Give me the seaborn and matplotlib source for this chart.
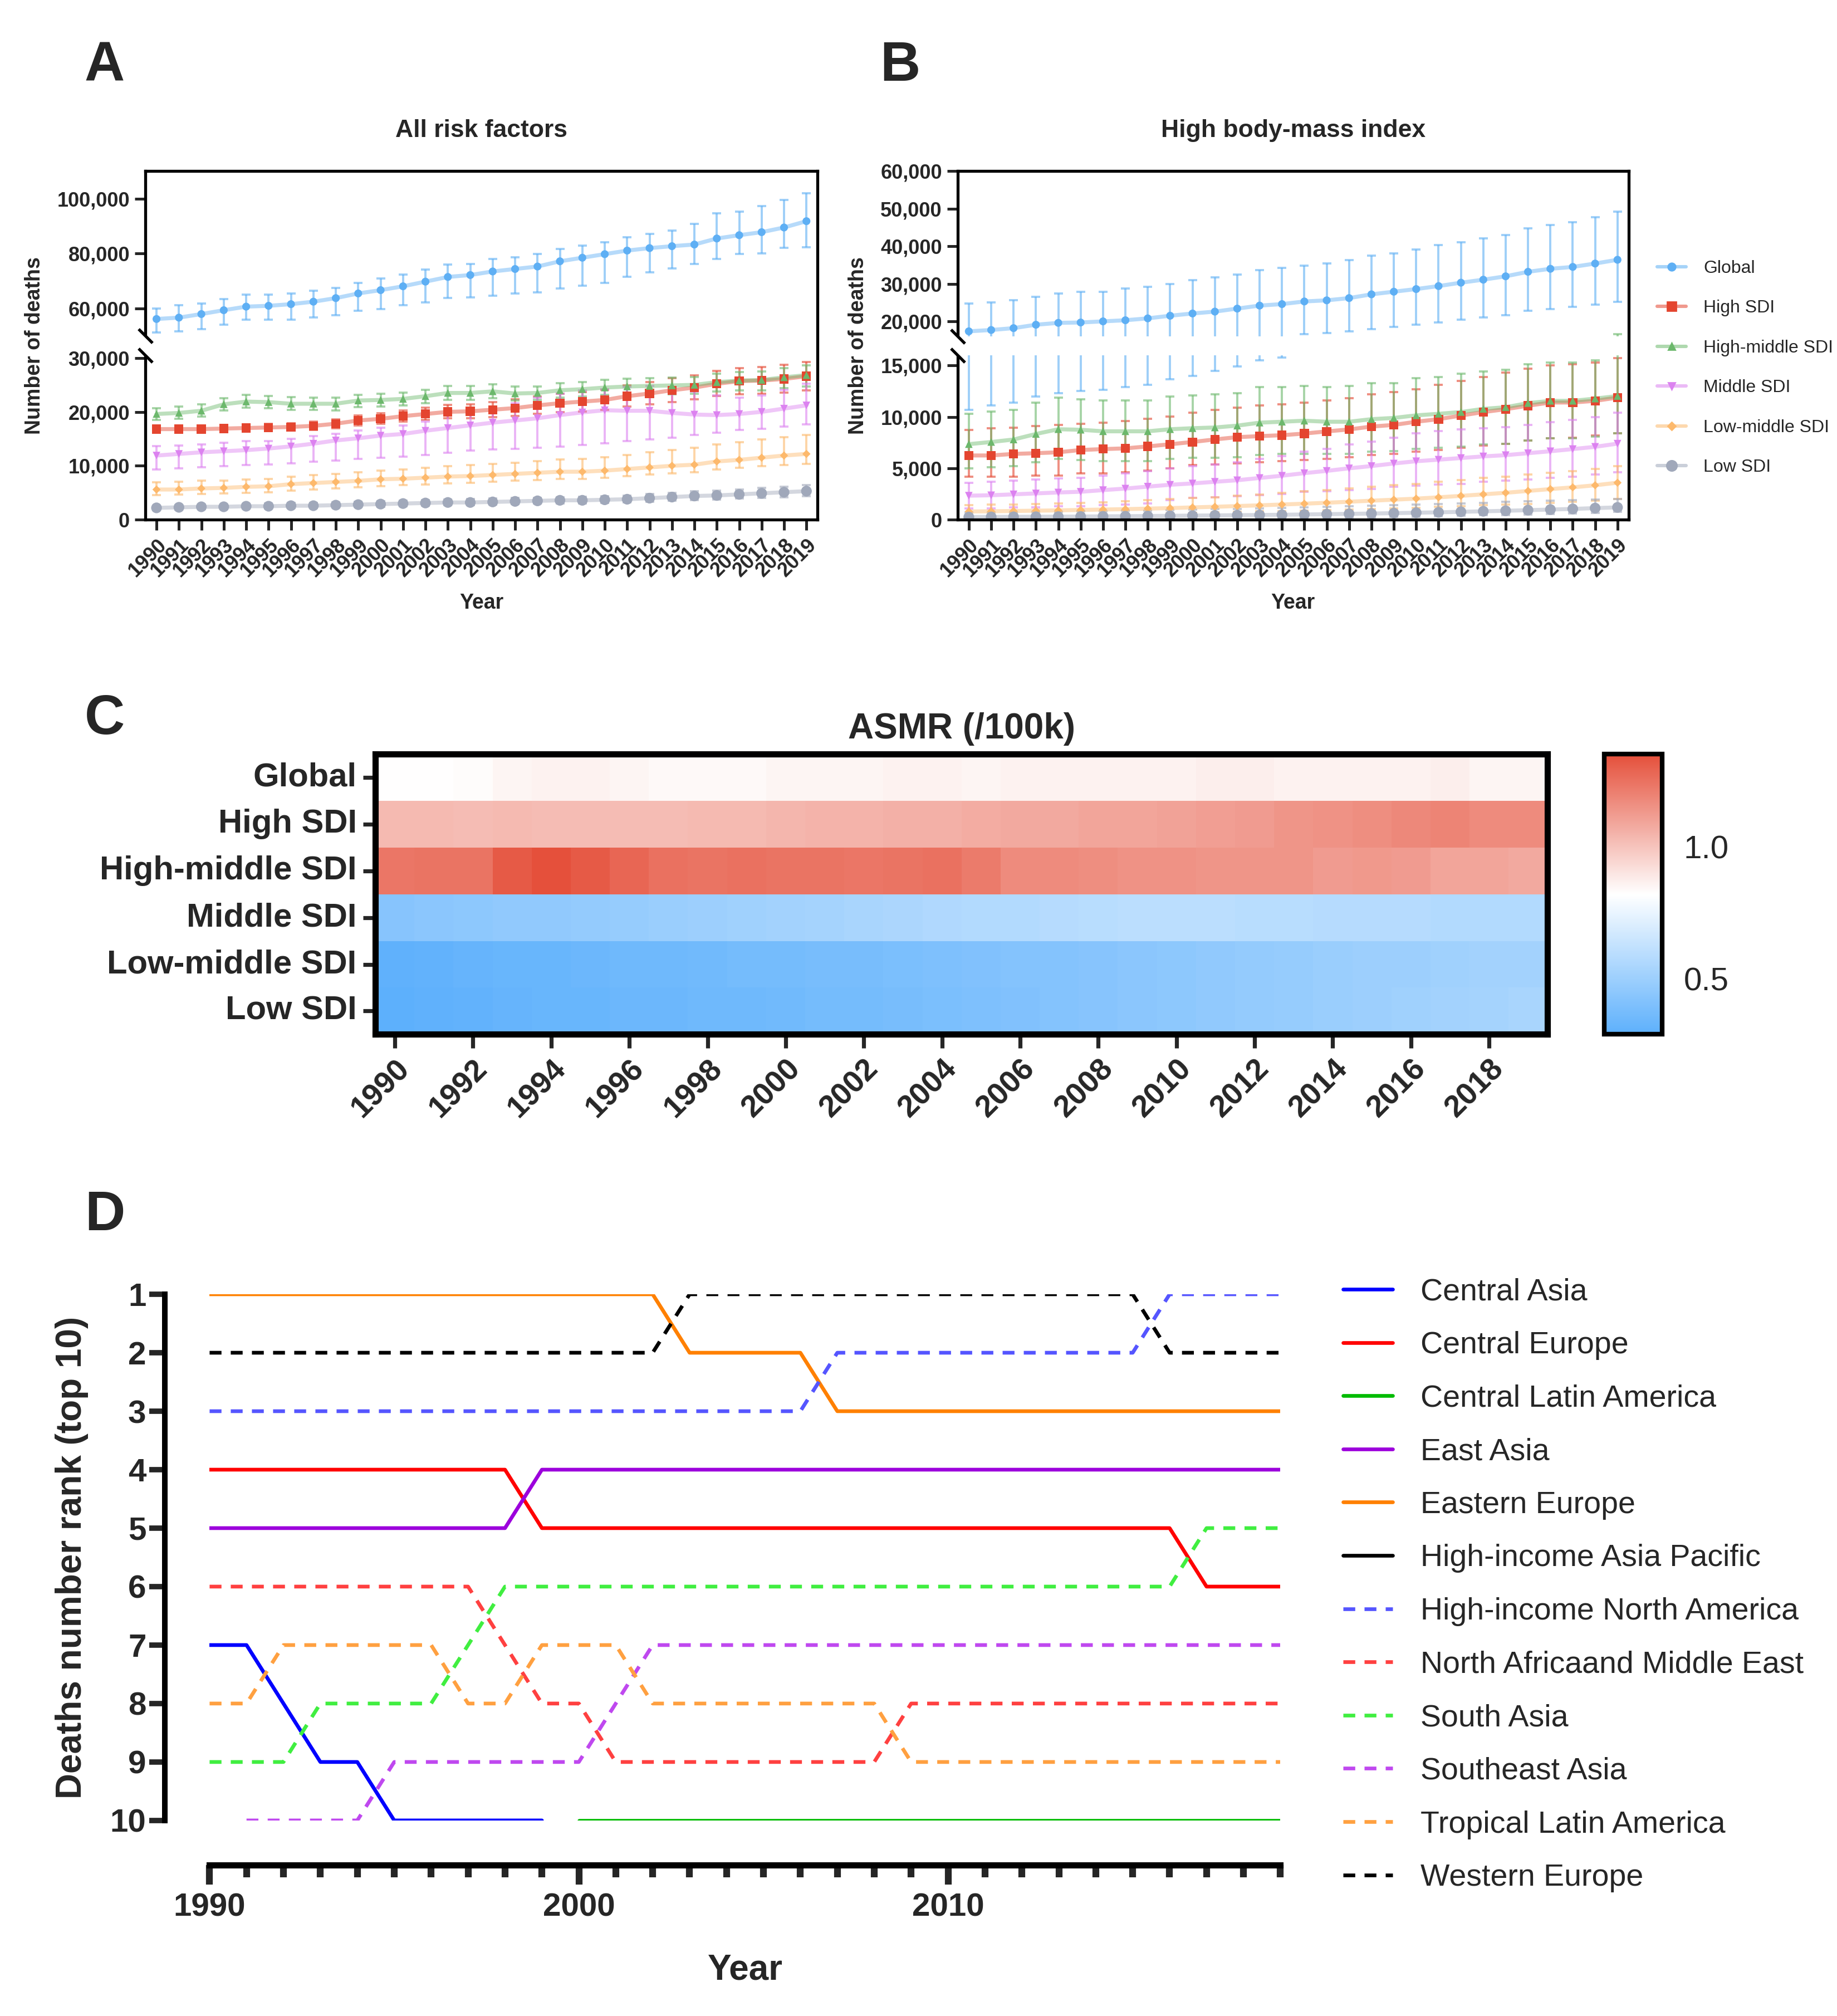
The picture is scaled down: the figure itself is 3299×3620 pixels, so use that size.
import numpy as np
import pandas as pd
import matplotlib
matplotlib.use("Agg")
import matplotlib.pyplot as plt
import seaborn as sns
from matplotlib.colors import LinearSegmentedColormap, to_rgba
from matplotlib.lines import Line2D
from matplotlib.patches import Rectangle
from matplotlib.ticker import FixedLocator, FuncFormatter, MultipleLocator

YEARS = list(range(1990, 2020))
GROUPS = ["Global", "High SDI", "High-middle SDI", "Middle SDI", "Low-middle SDI", "Low SDI"]

# ---------------- panel A : all risk factors (thousands of deaths) ----------------
A_GLOBAL = [56.2, 56.7, 58.0, 59.4, 60.7, 61.0, 61.6, 62.5, 63.8, 65.5, 66.7, 68.1, 69.8, 71.5, 72.2,
            73.5, 74.4, 75.3, 77.2, 78.5, 79.8, 81.1, 82.0, 82.7, 83.3, 85.5, 86.7, 87.8, 89.5, 91.8]
A_GLOBAL_LO = [51.2, 51.8, 52.5, 54.1, 55.9, 55.9, 55.9, 56.7, 57.5, 59.1, 59.8, 61.2, 62.2, 63.8, 64.0,
               64.6, 65.4, 65.9, 67.3, 68.4, 69.4, 71.5, 73.2, 74.7, 76.2, 78.1, 79.8, 80.0, 82.1, 82.4]
A_GLOBAL_HI = [60.1, 61.3, 61.9, 63.5, 65.1, 65.1, 65.4, 66.4, 67.5, 69.4, 70.9, 72.4, 74.2, 76.0, 76.2,
               78.0, 78.6, 79.8, 81.6, 82.9, 84.1, 86.0, 87.1, 88.4, 90.8, 94.6, 95.3, 97.3, 99.6, 102.0]
A_HIGH = [16.8, 16.8, 16.8, 16.9, 17.0, 17.1, 17.2, 17.4, 17.8, 18.4, 18.7, 19.2, 19.6, 20.0, 20.1,
          20.4, 20.7, 21.2, 21.6, 21.9, 22.2, 22.9, 23.4, 24.0, 24.5, 25.2, 25.7, 25.8, 26.1, 26.6]
A_HIGH_LO = [16.2, 16.2, 16.2, 16.3, 16.4, 16.4, 16.5, 16.6, 17.0, 17.5, 17.8, 18.2, 18.5, 18.8, 18.8,
             19.0, 19.2, 19.6, 19.9, 20.1, 20.4, 21.0, 21.4, 21.8, 22.3, 22.9, 23.3, 23.4, 23.6, 24.0]
A_HIGH_HI = [17.4, 17.4, 17.5, 17.5, 17.6, 17.8, 17.9, 18.2, 18.6, 19.3, 19.7, 20.3, 20.8, 21.3, 21.4,
             21.8, 22.3, 22.8, 23.4, 23.7, 24.1, 24.9, 25.5, 26.2, 26.8, 27.6, 28.1, 28.3, 28.7, 29.2]
A_HM = [19.6, 19.8, 20.2, 21.4, 21.9, 21.8, 21.5, 21.5, 21.5, 22.1, 22.2, 22.4, 22.9, 23.5, 23.5,
        23.8, 23.4, 23.5, 24.0, 24.2, 24.5, 24.7, 24.8, 24.9, 25.0, 25.5, 25.8, 25.9, 26.4, 26.8]
A_HM_LO = [18.5, 18.7, 19.1, 20.3, 20.8, 20.7, 20.4, 20.4, 20.3, 20.9, 21.0, 21.2, 21.6, 22.2, 22.2,
           22.5, 22.1, 22.2, 22.6, 22.8, 23.1, 23.2, 23.3, 23.3, 23.4, 23.8, 24.0, 24.0, 24.4, 24.7]
A_HM_HI = [20.7, 21.0, 21.4, 22.5, 23.1, 22.9, 22.7, 22.6, 22.6, 23.2, 23.4, 23.6, 24.1, 24.8, 24.8,
           25.1, 24.7, 24.7, 25.3, 25.5, 25.9, 26.1, 26.2, 26.4, 26.5, 27.1, 27.4, 27.5, 28.1, 28.6]
A_MID = [11.9, 12.2, 12.5, 12.7, 12.9, 13.2, 13.6, 14.1, 14.7, 15.1, 15.6, 15.9, 16.5, 17.0, 17.5,
         18.0, 18.4, 18.8, 19.4, 19.9, 20.3, 20.2, 20.2, 19.8, 19.5, 19.4, 19.6, 20.0, 20.6, 21.2]
A_MID_LO = [9.3, 9.5, 9.7, 9.9, 10.1, 10.2, 10.5, 10.8, 11.0, 11.3, 11.5, 11.7, 12.0, 12.4, 12.8,
            13.0, 13.1, 13.3, 13.6, 13.9, 14.2, 14.6, 14.9, 15.2, 15.7, 16.1, 16.6, 16.9, 17.3, 17.7]
A_MID_HI = [13.7, 13.8, 14.0, 14.3, 14.6, 14.6, 15.0, 15.5, 15.9, 16.5, 17.1, 17.5, 18.2, 19.3, 20.2,
            20.8, 21.6, 22.6, 23.4, 24.0, 24.2, 24.6, 24.8, 24.4, 23.8, 23.0, 22.6, 23.0, 24.1, 25.2]
A_LM = [5.6, 5.6, 5.8, 5.9, 6.1, 6.2, 6.6, 6.8, 7.0, 7.2, 7.5, 7.6, 7.8, 8.0, 8.1,
        8.3, 8.5, 8.7, 8.9, 8.9, 9.1, 9.4, 9.7, 10.0, 10.2, 10.8, 11.1, 11.5, 11.9, 12.2]
A_LM_LO = [4.6, 4.7, 4.8, 4.9, 5.0, 5.1, 5.4, 5.6, 5.8, 6.0, 6.2, 6.4, 6.5, 6.7, 6.8,
           7.0, 7.2, 7.4, 7.6, 7.6, 7.8, 8.1, 8.4, 8.6, 8.8, 9.3, 9.6, 9.9, 10.1, 10.4]
A_LM_HI = [6.9, 7.0, 7.2, 7.3, 7.5, 7.6, 8.0, 8.3, 8.5, 8.8, 9.1, 9.3, 9.6, 9.9, 10.1,
           10.3, 10.6, 10.9, 11.2, 11.3, 11.6, 12.0, 12.5, 12.9, 13.3, 14.0, 14.4, 14.9, 15.3, 15.7]
A_LOW = [2.2, 2.3, 2.4, 2.4, 2.5, 2.5, 2.6, 2.6, 2.7, 2.8, 2.9, 3.0, 3.1, 3.2, 3.2,
         3.3, 3.4, 3.5, 3.6, 3.6, 3.7, 3.8, 4.0, 4.2, 4.4, 4.5, 4.7, 4.9, 5.1, 5.3]
A_LOW_LO = [1.8, 1.9, 2.0, 2.0, 2.1, 2.1, 2.2, 2.2, 2.3, 2.4, 2.4, 2.5, 2.6, 2.7, 2.7,
            2.8, 2.9, 3.0, 3.0, 3.0, 3.1, 3.2, 3.3, 3.5, 3.6, 3.7, 3.9, 4.0, 4.2, 4.4]
A_LOW_HI = [2.6, 2.7, 2.8, 2.8, 2.9, 3.0, 3.1, 3.1, 3.2, 3.3, 3.4, 3.5, 3.6, 3.7, 3.8,
            3.9, 4.0, 4.1, 4.2, 4.3, 4.4, 4.5, 4.8, 5.0, 5.3, 5.4, 5.6, 5.9, 6.1, 6.4]

# ---------------- panel B : high body-mass index (thousands of deaths) ----------------
B_GLOBAL = [17.35, 17.7, 18.2, 19.1, 19.6, 19.7, 20.0, 20.3, 20.8, 21.5, 22.1, 22.6, 23.4, 24.2, 24.6,
            25.3, 25.6, 26.2, 27.2, 27.9, 28.6, 29.4, 30.3, 31.1, 32.0, 33.2, 34.0, 34.5, 35.4, 36.4]
B_GLOBAL_LO = [10.7, 11.1, 11.4, 12.0, 12.3, 12.5, 12.65, 12.9, 13.1, 13.65, 14.0, 14.5, 14.9, 15.5, 15.8,
               16.6, 16.9, 17.3, 18.0, 18.5, 19.1, 19.7, 20.4, 21.0, 21.7, 22.8, 23.2, 23.8, 24.5, 25.2]
B_GLOBAL_HI = [24.7, 25.0, 25.6, 26.6, 27.4, 27.8, 27.9, 28.7, 29.2, 30.0, 31.0, 31.7, 32.4, 33.6, 34.2,
               34.9, 35.4, 36.3, 37.5, 38.1, 39.1, 40.3, 41.1, 42.1, 43.0, 44.8, 45.7, 46.4, 47.7, 49.2]
B_HIGH = [6.25, 6.25, 6.4, 6.47, 6.56, 6.78, 6.87, 6.94, 7.13, 7.34, 7.56, 7.81, 8.03, 8.13, 8.22,
          8.38, 8.59, 8.78, 9.06, 9.22, 9.53, 9.78, 10.13, 10.47, 10.75, 11.09, 11.4, 11.4, 11.56, 11.88]
B_HIGH_LO = [4.2, 4.2, 4.2, 4.3, 4.3, 4.5, 4.5, 4.6, 4.8, 5.0, 5.3, 5.4, 5.5, 5.6, 5.7,
             5.8, 5.9, 6.1, 6.3, 6.4, 6.6, 6.8, 7.0, 7.2, 7.4, 7.7, 7.9, 8.0, 8.2, 8.4]
B_HIGH_HI = [8.75, 8.9, 8.95, 9.1, 9.2, 9.35, 9.45, 9.6, 9.8, 10.05, 10.4, 10.7, 10.9, 11.1, 11.2,
             11.4, 11.6, 11.8, 12.2, 12.4, 12.7, 13.1, 13.5, 13.9, 14.3, 14.7, 15.0, 15.1, 15.3, 15.7]
B_HM = [7.35, 7.56, 7.8, 8.34, 8.8, 8.75, 8.6, 8.6, 8.6, 8.8, 8.9, 8.97, 9.15, 9.44, 9.53,
        9.63, 9.53, 9.53, 9.78, 9.9, 10.15, 10.3, 10.47, 10.78, 10.94, 11.34, 11.56, 11.56, 11.78, 12.03]
B_HM_LO = [5.0, 5.1, 5.2, 5.6, 5.9, 5.8, 5.7, 5.7, 5.7, 5.9, 6.0, 6.0, 6.1, 6.3, 6.4,
           6.4, 6.4, 6.4, 6.6, 6.7, 6.9, 7.0, 7.1, 7.3, 7.4, 7.7, 7.9, 7.9, 8.1, 8.4]
B_HM_HI = [10.3, 10.5, 10.7, 11.4, 11.9, 11.7, 11.6, 11.6, 11.6, 12.0, 12.1, 12.2, 12.3, 12.9, 12.9,
           13.0, 12.9, 13.0, 13.3, 13.3, 13.75, 13.9, 14.2, 14.4, 14.6, 15.1, 15.3, 15.3, 15.5, 16.6]
B_MID = [2.34, 2.38, 2.47, 2.56, 2.65, 2.72, 2.88, 3.03, 3.22, 3.4, 3.53, 3.69, 3.84, 4.06, 4.28,
         4.53, 4.75, 5.0, 5.22, 5.47, 5.69, 5.84, 6.0, 6.16, 6.28, 6.47, 6.66, 6.87, 7.09, 7.4]
B_MID_LO = [1.1, 1.1, 1.2, 1.2, 1.3, 1.3, 1.4, 1.5, 1.6, 1.9, 2.1, 2.2, 2.3, 2.4, 2.5,
            2.7, 2.8, 2.9, 3.0, 3.2, 3.3, 3.4, 3.5, 3.7, 3.8, 3.9, 4.1, 4.2, 4.4, 4.6]
B_MID_HI = [3.6, 3.7, 3.8, 3.9, 4.0, 4.1, 4.3, 4.5, 4.7, 5.0, 5.2, 5.4, 5.6, 5.9, 6.2,
            6.6, 6.9, 7.3, 7.6, 8.0, 8.4, 8.6, 8.8, 8.9, 9.0, 9.2, 9.5, 9.7, 10.0, 10.4]
B_LM = [0.8, 0.82, 0.85, 0.88, 0.91, 0.95, 0.99, 1.03, 1.08, 1.13, 1.2, 1.26, 1.33, 1.4, 1.48,
        1.56, 1.65, 1.75, 1.85, 1.95, 2.05, 2.18, 2.32, 2.47, 2.62, 2.8, 2.98, 3.15, 3.35, 3.6]
B_LM_LO = [0.4, 0.4, 0.4, 0.4, 0.45, 0.45, 0.5, 0.5, 0.55, 0.6, 0.65, 0.7, 0.75, 0.8, 0.85,
           0.9, 0.95, 1.0, 1.05, 1.1, 1.15, 1.25, 1.3, 1.4, 1.45, 1.55, 1.65, 1.75, 1.85, 2.0]
B_LM_HI = [1.4, 1.45, 1.5, 1.55, 1.6, 1.65, 1.7, 1.8, 1.9, 2.0, 2.1, 2.2, 2.35, 2.45, 2.6,
           2.75, 2.9, 3.05, 3.2, 3.35, 3.5, 3.7, 3.85, 4.05, 4.2, 4.4, 4.55, 4.75, 4.95, 5.2]
B_LOW = [0.26, 0.27, 0.28, 0.29, 0.3, 0.31, 0.33, 0.34, 0.36, 0.38, 0.4, 0.42, 0.44, 0.46, 0.48,
         0.51, 0.54, 0.57, 0.6, 0.64, 0.68, 0.72, 0.77, 0.82, 0.87, 0.93, 0.99, 1.05, 1.13, 1.2]
B_LOW_LO = [0.05, 0.05, 0.06, 0.06, 0.07, 0.07, 0.08, 0.09, 0.1, 0.11, 0.12, 0.13, 0.14, 0.16, 0.17,
            0.19, 0.21, 0.23, 0.25, 0.28, 0.31, 0.34, 0.38, 0.42, 0.46, 0.5, 0.55, 0.6, 0.65, 0.75]
B_LOW_HI = [0.7, 0.72, 0.74, 0.76, 0.78, 0.8, 0.83, 0.86, 0.9, 0.94, 0.98, 1.02, 1.06, 1.1, 1.14,
            1.19, 1.24, 1.3, 1.36, 1.42, 1.48, 1.54, 1.6, 1.66, 1.72, 1.78, 1.84, 1.9, 1.95, 2.0]

# ---------------- panel C : ASMR (/100k) ----------------
C_ROWS = ["Global", "High SDI", "High-middle SDI", "Middle SDI", "Low-middle SDI", "Low SDI"]
C_GLOBAL = [0.82, 0.82, 0.83, 0.85, 0.86, 0.86, 0.85, 0.84, 0.84, 0.84, 0.85, 0.85, 0.85, 0.86, 0.86,
            0.85, 0.86, 0.86, 0.86, 0.86, 0.86, 0.87, 0.87, 0.86, 0.86, 0.86, 0.86, 0.87, 0.85, 0.85]
C_HIGH = [1.03, 1.03, 1.02, 1.03, 1.02, 1.02, 1.02, 1.02, 1.03, 1.03, 1.04, 1.05, 1.05, 1.06, 1.06,
          1.07, 1.08, 1.08, 1.09, 1.09, 1.10, 1.11, 1.12, 1.14, 1.15, 1.16, 1.18, 1.19, 1.17, 1.17]
C_HM = [1.23, 1.24, 1.24, 1.32, 1.35, 1.32, 1.28, 1.25, 1.24, 1.25, 1.24, 1.24, 1.23, 1.24, 1.25,
        1.22, 1.17, 1.17, 1.16, 1.15, 1.15, 1.14, 1.14, 1.14, 1.12, 1.13, 1.12, 1.09, 1.09, 1.08]
C_MID = [0.43, 0.44, 0.45, 0.46, 0.46, 0.47, 0.48, 0.49, 0.50, 0.51, 0.52, 0.53, 0.54, 0.55, 0.56,
         0.57, 0.57, 0.58, 0.59, 0.60, 0.60, 0.60, 0.59, 0.59, 0.58, 0.58, 0.58, 0.57, 0.57, 0.57]
C_LM = [0.30, 0.31, 0.32, 0.33, 0.33, 0.34, 0.35, 0.35, 0.36, 0.37, 0.37, 0.38, 0.38, 0.39, 0.40,
        0.41, 0.42, 0.42, 0.43, 0.44, 0.45, 0.46, 0.47, 0.48, 0.49, 0.50, 0.50, 0.51, 0.52, 0.52]
C_LOW = [0.29, 0.30, 0.31, 0.32, 0.33, 0.33, 0.34, 0.34, 0.35, 0.35, 0.36, 0.37, 0.37, 0.38, 0.39,
         0.40, 0.41, 0.42, 0.43, 0.44, 0.45, 0.46, 0.47, 0.48, 0.49, 0.50, 0.51, 0.52, 0.53, 0.54]

# ---------------- panel D : deaths number rank (top 10) ----------------
n = np.nan
REGIONS = ["Central Asia", "Central Europe", "Central Latin America", "East Asia", "Eastern Europe",
           "High-income Asia Pacific", "High-income North America", "North Africaand Middle East",
           "South Asia", "Southeast Asia", "Tropical Latin America", "Western Europe"]
R_CENTRAL_ASIA = [7, 7, 8, 9, 9, 10, 10, 10, 10, 10, n, n, n, n, n, n, n, n, n, n, n, n, n, n, n, n, n, n, n, n]
R_CENTRAL_EUROPE = [4, 4, 4, 4, 4, 4, 4, 4, 4, 5, 5, 5, 5, 5, 5, 5, 5, 5, 5, 5, 5, 5, 5, 5, 5, 5, 5, 6, 6, 6]
R_CENTRAL_LATAM = [n, n, n, n, n, n, n, n, n, n, 10, 10, 10, 10, 10, 10, 10, 10, 10, 10, 10, 10, 10, 10, 10, 10, 10, 10, 10, 10]
R_EAST_ASIA = [5, 5, 5, 5, 5, 5, 5, 5, 5, 4, 4, 4, 4, 4, 4, 4, 4, 4, 4, 4, 4, 4, 4, 4, 4, 4, 4, 4, 4, 4]
R_EASTERN_EUROPE = [1, 1, 1, 1, 1, 1, 1, 1, 1, 1, 1, 1, 1, 2, 2, 2, 2, 3, 3, 3, 3, 3, 3, 3, 3, 3, 3, 3, 3, 3]
R_HI_ASIA_PACIFIC = [n] * 30
R_HI_NORTH_AMERICA = [3, 3, 3, 3, 3, 3, 3, 3, 3, 3, 3, 3, 3, 3, 3, 3, 3, 2, 2, 2, 2, 2, 2, 2, 2, 2, 1, 1, 1, 1]
R_NAME = [6, 6, 6, 6, 6, 6, 6, 6, 7, 8, 8, 9, 9, 9, 9, 9, 9, 9, 9, 8, 8, 8, 8, 8, 8, 8, 8, 8, 8, 8]
R_SOUTH_ASIA = [9, 9, 9, 8, 8, 8, 8, 7, 6, 6, 6, 6, 6, 6, 6, 6, 6, 6, 6, 6, 6, 6, 6, 6, 6, 6, 6, 5, 5, 5]
R_SOUTHEAST_ASIA = [n, 10, 10, 10, 10, 9, 9, 9, 9, 9, 9, 8, 7, 7, 7, 7, 7, 7, 7, 7, 7, 7, 7, 7, 7, 7, 7, 7, 7, 7]
R_TROPICAL_LATAM = [8, 8, 7, 7, 7, 7, 7, 8, 8, 7, 7, 7, 8, 8, 8, 8, 8, 8, 8, 9, 9, 9, 9, 9, 9, 9, 9, 9, 9, 9]
R_WESTERN_EUROPE = [2, 2, 2, 2, 2, 2, 2, 2, 2, 2, 2, 2, 2, 1, 1, 1, 1, 1, 1, 1, 1, 1, 1, 1, 1, 1, 2, 2, 2, 2]

# ---------------- styles ----------------
PAL = {"Global": "#5eaff4", "High SDI": "#e4452f", "High-middle SDI": "#6cb86c",
       "Middle SDI": "#dc82f0", "Low-middle SDI": "#fdb96c", "Low SDI": "#a0a8ba"}
MARK = {"Global": "o", "High SDI": "s", "High-middle SDI": "^",
        "Middle SDI": "v", "Low-middle SDI": "D", "Low SDI": "o"}
SIZES = {"Global": 26, "High SDI": 34, "High-middle SDI": 24,
         "Middle SDI": 24, "Low-middle SDI": 14, "Low SDI": 48}
D_COLORS = {"Central Asia": "#0000ff", "Central Europe": "#ff0000", "Central Latin America": "#00bb00",
            "East Asia": "#9c00dc", "Eastern Europe": "#ff8000", "High-income Asia Pacific": "#000000",
            "High-income North America": "#5555ff", "North Africaand Middle East": "#ff4040",
            "South Asia": "#40ee40", "Southeast Asia": "#bf48ef", "Tropical Latin America": "#ffa040",
            "Western Europe": "#000000"}
DASH = (3.2, 2.5)
D_DASHES = {r: ("" if i < 6 else DASH) for i, r in enumerate(REGIONS)}

sns.set_style("ticks")
plt.rcParams["font.family"] = ["Liberation Sans", "DejaVu Sans"]
plt.rcParams["axes.edgecolor"] = "black"

fig = plt.figure(figsize=(16.495, 18.1), dpi=200)


def trend_panel(rect, series, pts, fr, yticks, title, legend=False):
    ax = fig.add_axes(rect)
    rows = []
    for g in GROUPS:
        m, lo, hi = series[g]
        for yr, v, l, h in zip(YEARS, m, lo, hi):
            rows.append({"Year": yr, "Group": g, "Deaths": v * 1000, "lo": l * 1000, "hi": h * 1000})
    df = pd.DataFrame(rows)

    # piecewise linear y axis with a break
    fwd = lambda v: np.interp(v, pts, fr)
    inv = lambda u: np.interp(u, fr, pts)
    ax.set_yscale("function", functions=(fwd, inv))

    for g in GROUPS:
        sub = df[df["Group"] == g]
        err = [sub["Deaths"] - sub["lo"], sub["hi"] - sub["Deaths"]]
        ax.errorbar(sub["Year"], sub["Deaths"], yerr=err, fmt="none", ecolor=to_rgba(PAL[g], 0.6),
                    elinewidth=1.4, capsize=2.8, capthick=1.4, zorder=1.5)
    sns.lineplot(data=df, x="Year", y="Deaths", hue="Group", hue_order=GROUPS, palette=PAL,
                 linewidth=2.6, alpha=0.45, errorbar=None, legend=False, ax=ax, zorder=1.8)
    sns.scatterplot(data=df, x="Year", y="Deaths", hue="Group", style="Group", size="Group",
                    hue_order=GROUPS, palette=PAL, markers=MARK, sizes=SIZES, linewidth=0,
                    legend=False, ax=ax, zorder=2.1)

    ax.set_ylim(pts[0], pts[-1])
    ax.set_xlim(1989.5, 2019.5)
    ax.yaxis.set_major_locator(FixedLocator(yticks))
    ax.yaxis.set_minor_locator(FixedLocator([]))
    ax.yaxis.set_major_formatter(FuncFormatter(lambda v, p: f"{int(round(v)):,}"))
    ax.set_xticks(YEARS)
    ax.set_xticklabels([str(y) for y in YEARS], rotation=45, ha="right", rotation_mode="anchor")
    ax.tick_params(axis="both", direction="out", length=7, width=1.8, labelsize=13, pad=3)
    for lab in ax.get_xticklabels() + ax.get_yticklabels():
        lab.set_fontweight("bold")
    for sp in ax.spines.values():
        sp.set_linewidth(1.9)
    ax.set_xlabel("Year", fontsize=13.5, fontweight="bold", labelpad=8)
    ax.set_ylabel("Number of deaths", fontsize=13.5, fontweight="bold", labelpad=8)
    ax.set_title(title, fontsize=16, fontweight="bold", pad=22)

    # hide the gap and draw the break marks
    ax.add_patch(Rectangle((0, fr[1]), 1, fr[2] - fr[1], transform=ax.transAxes,
                           facecolor="white", edgecolor="none", zorder=2.3))
    ax.add_patch(Rectangle((-0.008, fr[1]), 0.012, fr[2] - fr[1], transform=ax.transAxes,
                           facecolor="white", edgecolor="none", zorder=3, clip_on=False))
    ax.plot([0, 0], [fr[1], fr[2]], transform=ax.transAxes, ls="none", color="black",
            marker=[(-1, 1), (1, -1)], ms=9, mew=1.9, clip_on=False, zorder=4)

    if legend:
        handles = [Line2D([0], [0], color=to_rgba(PAL[g], 0.55), lw=2.2, marker=MARK[g],
                          markerfacecolor=PAL[g], markeredgecolor=PAL[g],
                          markersize=np.sqrt(SIZES[g]) * 0.95) for g in GROUPS]
        fig.legend(handles, GROUPS, loc="upper left", bbox_to_anchor=(0.8935, 0.879),
                   frameon=False, fontsize=11.5, handlelength=1.6, handletextpad=1.0,
                   labelspacing=1.3)
    return ax


series_a = {"Global": (A_GLOBAL, A_GLOBAL_LO, A_GLOBAL_HI), "High SDI": (A_HIGH, A_HIGH_LO, A_HIGH_HI),
            "High-middle SDI": (A_HM, A_HM_LO, A_HM_HI), "Middle SDI": (A_MID, A_MID_LO, A_MID_HI),
            "Low-middle SDI": (A_LM, A_LM_LO, A_LM_HI), "Low SDI": (A_LOW, A_LOW_LO, A_LOW_HI)}
series_b = {"Global": (B_GLOBAL, B_GLOBAL_LO, B_GLOBAL_HI), "High SDI": (B_HIGH, B_HIGH_LO, B_HIGH_HI),
            "High-middle SDI": (B_HM, B_HM_LO, B_HM_HI), "Middle SDI": (B_MID, B_MID_LO, B_MID_HI),
            "Low-middle SDI": (B_LM, B_LM_LO, B_LM_HI), "Low SDI": (B_LOW, B_LOW_LO, B_LOW_HI)}

trend_panel([0.0791, 0.7422, 0.3660, 0.1729], series_a,
            [0, 30500, 50000, 110000], [0, 0.472, 0.527, 1.0],
            [0, 10000, 20000, 30000, 60000, 80000, 100000], "All risk factors")
trend_panel([0.5213, 0.7422, 0.3653, 0.1729], series_b,
            [0, 16000, 16001, 60000], [0, 0.472, 0.526, 1.0],
            [0, 5000, 10000, 15000, 20000, 30000, 40000, 50000, 60000], "High body-mass index",
            legend=True)

# ---------------- panel C ----------------
axc = fig.add_axes([0.2043, 0.4869, 0.6382, 0.1391])
cax = fig.add_axes([0.8733, 0.4869, 0.0315, 0.1391])
cmap = LinearSegmentedColormap.from_list("asmr", ["#5db0fc", "#ffffff", "#e5503b"])
heat = pd.DataFrame([C_GLOBAL, C_HIGH, C_HM, C_MID, C_LM, C_LOW], index=C_ROWS, columns=YEARS)
sns.heatmap(heat, ax=axc, cbar_ax=cax, cmap=cmap, vmin=0.29, vmax=1.35,
            xticklabels=2, yticklabels=True, linewidths=0)
axc.set_xlabel("")
axc.set_ylabel("")
axc.set_title("ASMR (/100k)", fontsize=23, fontweight="bold", pad=10)
axc.tick_params(axis="x", length=9, width=2.6, labelsize=20, rotation=45, pad=4)
axc.tick_params(axis="y", length=8, width=2.6, labelsize=21.5, rotation=0, pad=4)
for lab in axc.get_xticklabels():
    lab.set_ha("right")
    lab.set_rotation_mode("anchor")
    lab.set_fontweight("bold")
for lab in axc.get_yticklabels():
    lab.set_fontweight("bold")
for sp in axc.spines.values():
    sp.set_visible(True)
    sp.set_linewidth(4)
cbar = axc.collections[0].colorbar
cbar.outline.set_linewidth(3)
cbar.set_ticks([0.5, 1.0])
cbar.set_ticklabels(["0.5", "1.0"])
cax.tick_params(direction="in", left=True, right=True, length=6, width=2.6, labelsize=21, pad=14)

# ---------------- panel D ----------------
axd = fig.add_axes([0.1141, 0.0970, 0.5829, 0.2610])
rank_lists = [R_CENTRAL_ASIA, R_CENTRAL_EUROPE, R_CENTRAL_LATAM, R_EAST_ASIA, R_EASTERN_EUROPE,
              R_HI_ASIA_PACIFIC, R_HI_NORTH_AMERICA, R_NAME, R_SOUTH_ASIA, R_SOUTHEAST_ASIA,
              R_TROPICAL_LATAM, R_WESTERN_EUROPE]
drows = []
for reg, ranks in zip(REGIONS, rank_lists):
    for yr, rk in zip(YEARS, ranks):
        if not np.isnan(rk):
            drows.append({"Year": yr, "Region": reg, "Rank": rk})
ddf = pd.DataFrame(drows)
present = [r for r in REGIONS if r in set(ddf["Region"])]
sns.lineplot(data=ddf, x="Year", y="Rank", hue="Region", style="Region", hue_order=present,
             style_order=present, palette=D_COLORS, dashes={r: D_DASHES[r] for r in present},
             linewidth=2.4, errorbar=None, legend=False, ax=axd)
axd.set_ylim(10, 1)
axd.set_xlim(1990, 2019)
axd.set_yticks(range(1, 11))
axd.set_xticks([1990, 2000, 2010])
axd.xaxis.set_minor_locator(MultipleLocator(1))
axd.spines["top"].set_visible(False)
axd.spines["right"].set_visible(False)
axd.spines["left"].set_position(("outward", 29))
axd.spines["bottom"].set_position(("outward", 29))
axd.spines["left"].set_linewidth(3.6)
axd.spines["bottom"].set_linewidth(4.0)
axd.spines["bottom"].set_bounds(1990, 2019)
axd.tick_params(axis="y", length=10, width=3.5, labelsize=21, pad=2)
axd.tick_params(axis="x", which="major", length=12.5, width=4.4, labelsize=21, pad=5)
axd.tick_params(axis="x", which="minor", length=7.8, width=4.4)
for lab in axd.get_xticklabels() + axd.get_yticklabels():
    lab.set_fontweight("bold")
axd.set_xlabel("Year", fontsize=23, fontweight="bold", labelpad=20)
axd.set_ylabel("Deaths number rank (top 10)", fontsize=23, fontweight="bold", labelpad=14)

dhandles = [Line2D([0], [0], color=D_COLORS[r], lw=2.4,
                   linestyle="-" if D_DASHES[r] == "" else (0, DASH)) for r in REGIONS]
fig.legend(dhandles, REGIONS, loc="upper left", bbox_to_anchor=(0.716, 0.380), frameon=False,
           fontsize=20, handlelength=1.6, handletextpad=0.9, labelspacing=0.785)

# ---------------- panel letters ----------------
for letter, (x, y) in {"A": (0.057, 0.967), "B": (0.490, 0.967),
                       "C": (0.057, 0.643), "D": (0.057, 0.397)}.items():
    fig.text(x, y, letter, fontsize=36, fontweight="bold", ha="center", va="center")

fig.savefig("out.png", dpi=200)
